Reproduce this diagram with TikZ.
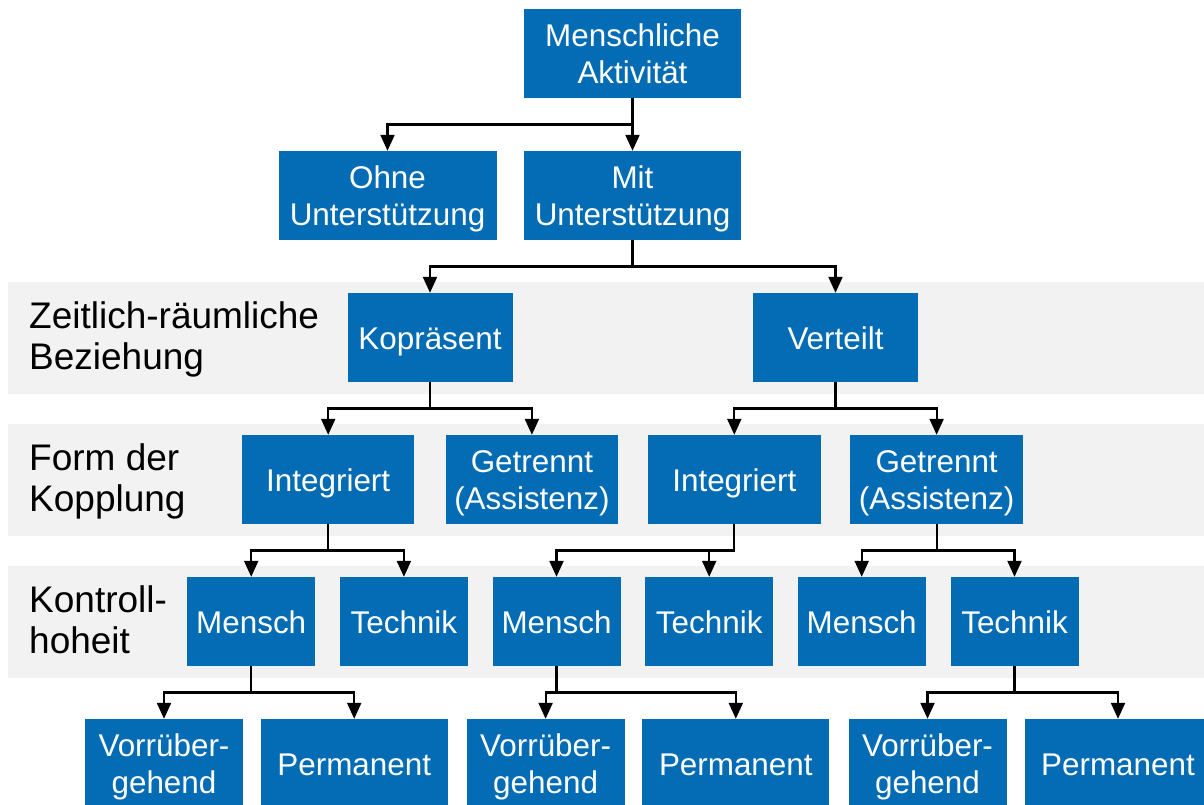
\documentclass[tikz,border=0pt]{standalone}
\usepackage{fontspec}
\setmainfont{Liberation Sans}
\usetikzlibrary{arrows.meta,calc}

\definecolor{boxblue}{RGB}{3,108,181}
\definecolor{bandgray}{RGB}{242,242,242}

% two centred lines, baseline at the first line
\newcommand\twotext[2]{\begin{tabular}[t]{@{}c@{}}#1\\#2\end{tabular}}
% two left-aligned lines, baseline at the first line
\newcommand\twoleft[2]{\begin{tabular}[t]{@{}l@{}}#1\\#2\end{tabular}}

\tikzset{
  box/.style={fill=boxblue, text=white, inner sep=0pt, minimum height=89pt,
    font=\fontsize{31.4}{37.6}\selectfont},
  oneline/.style={box, text height=23.6pt, text depth=0pt},
  twoline/.style={box, text height=22.8pt, text depth=37.6pt},
  wtop/.style={minimum width=217pt},
  wzr/.style={minimum width=165pt},
  wkop/.style={minimum width=172.5pt},
  wctl/.style={minimum width=128pt},
  wvor/.style={minimum width=158pt},
  wper/.style={minimum width=187pt},
  levellabel/.style={anchor=base west, inner sep=0pt, text=black,
    font=\fontsize{37}{41}\selectfont},
  conn/.style={line width=2.2pt, draw=black,
    -{Triangle[width=14pt,length=16pt]}},
}

% elbow connector: down to the half-way line, across, down onto the child
\newcommand\treelink[2]{%
  \draw[conn] (#1.south) |- ($(#1.center)!.5!(#2.center)$) -| (#2.north);}

\begin{document}
\begin{tikzpicture}[x=1pt, y=-1pt]
  \useasboundingbox (0,0) rectangle (1204,805);
  \clip (0,0) rectangle (1204,805);

  % level bands
  \fill[bandgray] (8,282) rectangle (1204,394);
  \fill[bandgray] (8,424) rectangle (1204,536);
  \fill[bandgray] (8,566) rectangle (1204,678);

  % level labels
  \node[levellabel] (lz) at (29,328) {\twoleft{Zeitlich-räumliche}{Beziehung}};
  \node[levellabel] (lf) at (29,470) {\twoleft{Form der}{Kopplung}};
  \node[levellabel] (lk) at (29,612) {\twoleft{Kontroll-}{hoheit}};

  % tree nodes
  \node[twoline, wtop] (akt)  at (632.5,53.5)  {\twotext{Menschliche}{Aktivität}};
  \node[twoline, wtop, minimum width=218pt] (ohne) at (387.5,195.5) {\twotext{Ohne}{Unterstützung}};
  \node[twoline, wtop] (mit)  at (632.5,195.5) {\twotext{Mit}{Unterstützung}};

  \node[oneline, wzr] (kop)  at (430,337.5)   {Kopräsent};
  \node[oneline, wzr] (vert) at (835.5,337.5) {Verteilt};

  \node[oneline, wkop] (intA) at (328.2,479.5) {Integriert};
  \node[twoline, wkop] (getA) at (531.9,479.5) {\twotext{Getrennt}{(Assistenz)}};
  \node[oneline, wkop] (intB) at (734.3,479.5) {Integriert};
  \node[twoline, wkop] (getB) at (936.6,479.5) {\twotext{Getrennt}{(Assistenz)}};

  \node[oneline, wctl] (menA) at (251.2,621.5)  {Mensch};
  \node[oneline, wctl] (tecA) at (403.9,621.5)  {Technik};
  \node[oneline, wctl] (menB) at (556.5,621.5)  {Mensch};
  \node[oneline, wctl] (tecB) at (709.2,621.5)  {Technik};
  \node[oneline, wctl] (menC) at (861.7,621.5)  {Mensch};
  \node[oneline, wctl] (tecC) at (1014.5,621.5) {Technik};

  \node[twoline, wvor] (vorA) at (164,763.5)   {\twotext{Vorrüber-}{gehend}};
  \node[oneline, wper] (perA) at (354.2,763.5) {Permanent};
  \node[twoline, wvor] (vorB) at (545.6,763.5) {\twotext{Vorrüber-}{gehend}};
  \node[oneline, wper] (perB) at (735.8,763.5) {Permanent};
  \node[twoline, wvor] (vorC) at (927.5,763.5) {\twotext{Vorrüber-}{gehend}};
  \node[oneline, wper] (perC) at (1118,763.5)  {Permanent};

  % connectors
  \treelink{akt}{ohne}
  \treelink{akt}{mit}
  \treelink{mit}{kop}
  \treelink{mit}{vert}
  \treelink{kop}{intA}
  \treelink{kop}{getA}
  \treelink{vert}{intB}
  \treelink{vert}{getB}
  \treelink{intA}{menA}
  \treelink{intA}{tecA}
  \treelink{intB}{menB}
  \treelink{intB}{tecB}
  \treelink{getB}{menC}
  \treelink{getB}{tecC}
  \treelink{menA}{vorA}
  \treelink{menA}{perA}
  \treelink{menB}{vorB}
  \treelink{menB}{perB}
  \treelink{tecC}{vorC}
  \treelink{tecC}{perC}
\end{tikzpicture}
\end{document}
